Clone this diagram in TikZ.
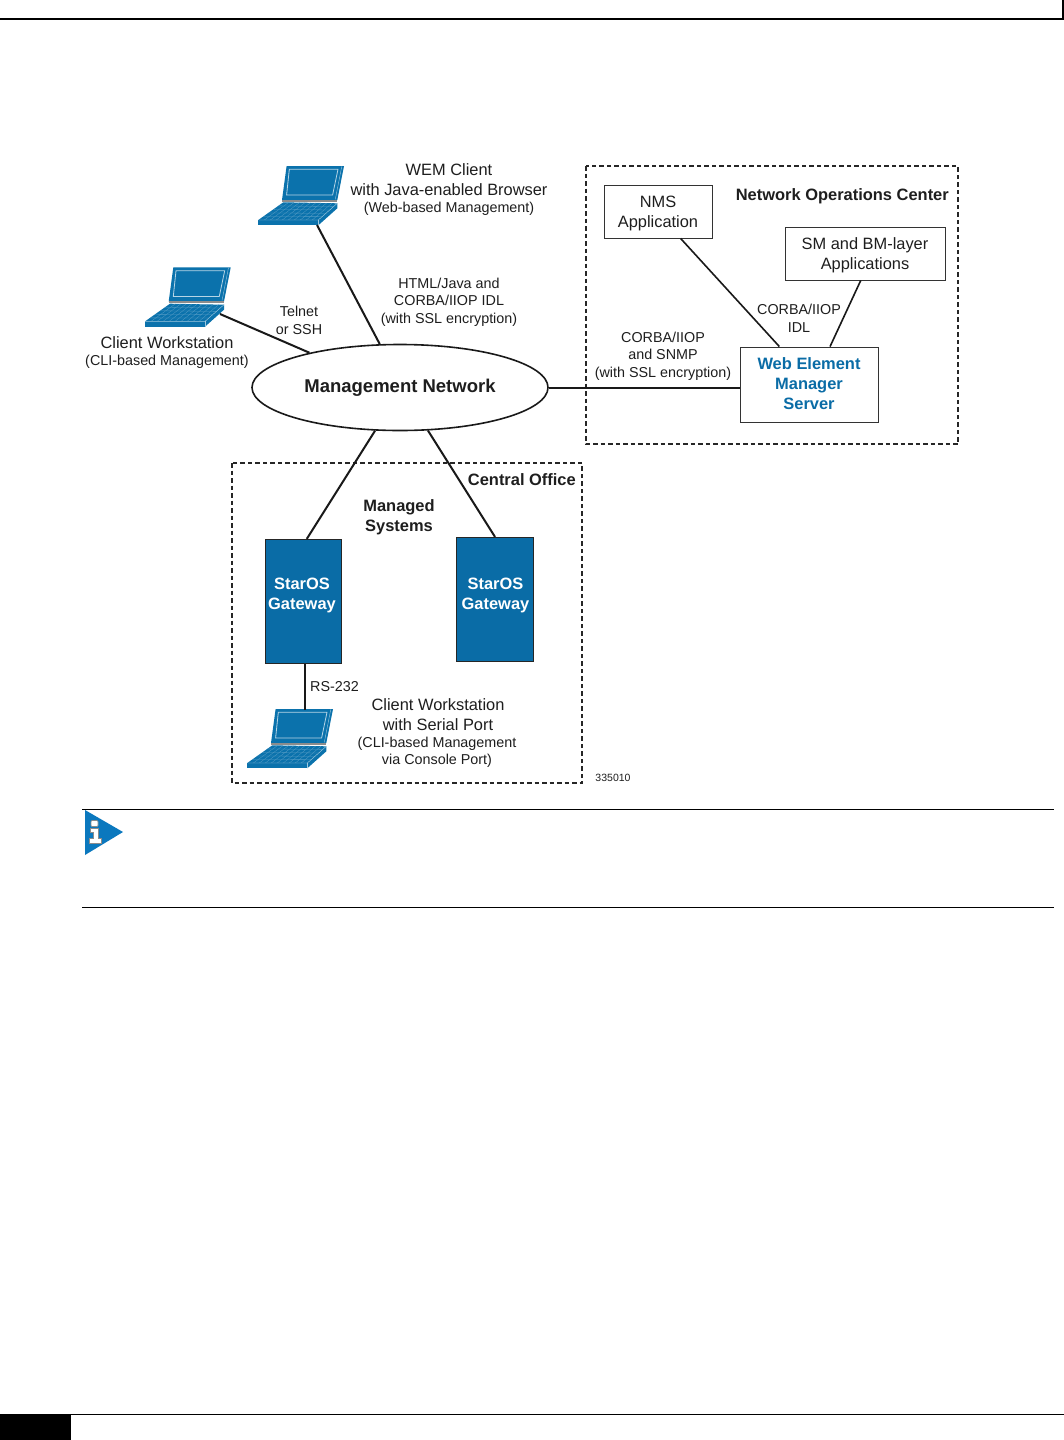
\documentclass[tikz,border=0pt]{standalone}
\usepackage{fontspec}
\setmainfont{Liberation Sans}
\usetikzlibrary{shapes.geometric,calc}
\definecolor{ciscoblue}{HTML}{0A6CA6}
\definecolor{lapblue}{HTML}{0B72AC}
\definecolor{infoblue}{HTML}{0B78BE}
\definecolor{inkc}{HTML}{1E1E1E}
\newcommand{\fs}[1]{\fontsize{#1}{#1}\selectfont}
\tikzset{
  x=1pt,y=-1pt,
  lbl/.style={text=inkc,align=center,inner sep=0pt,font=\fs{16.4}\linespread{1.22}\selectfont},
  lblb/.style={lbl,font=\fs{16.45}\bfseries\linespread{1.22}\selectfont},
  lbls/.style={lbl,font=\fs{14.35}\linespread{1.22}\selectfont},
  plainbox/.style={draw=black!80,line width=.9pt,fill=white,inner sep=0pt},
  gate/.style={draw=black!85,line width=.7pt,fill=ciscoblue,inner sep=0pt,minimum width=76.5pt,minimum height=124.5pt},
  link/.style={draw=black!90,line width=2pt},
  thinlink/.style={link,line width=1.6pt},
  zone/.style={draw=black!85,line width=1.2pt,dash pattern=on 4.5pt off 3pt},
  rule/.style={draw=black,line width=1.1pt},
  laptop/.pic={
    \fill[lapblue] (28.3,-59.3)--(85.7,-59.3)--(79,-25.3)--(23.7,-25.3)--cycle;
    \draw[white!70!lapblue,line width=.8pt] (31,-56)--(79.7,-56)--(74.3,-30.3)--(28.3,-30.3)--cycle;
    \draw[white!60!lapblue,line width=.4pt] (83.5,-59)--(77,-26);
    \fill[black!45] (23.7,-25.3)--(79,-25.3)--(79,-23.5)--(23.7,-23.5)--cycle;
    \fill[lapblue] (25,-23)--(79,-22)--(60,-5.3)--(0,-5.3)--cycle;
    \foreach \t in {.2,.4,.6,.8}{
      \draw[white!30!lapblue,line width=.3pt] ($(25,-23)!\t!(0,-5.3)$)--($(79,-22)!\t!(60,-5.3)$);}
    \foreach \t in {.1,.2,...,.95}{
      \draw[white!30!lapblue,line width=.3pt] ($(25,-23)!\t!(79,-22)$)--($(0,-5.3)!\t!(60,-5.3)$);}
    \fill[lapblue] (0,-5.3)--(60,-5.3)--(60,0)--(0,0)--cycle;
    \fill[lapblue] (60,-5.3)--(79,-22)--(79,-17)--(60,0)--cycle;
    \draw[white!60!lapblue,line width=.4pt] (60,-5.3)--(60,0);
    \draw[white!60!lapblue,line width=.4pt] (0,-5.3)--(60,-5.3)--(79,-22);
  }
}
\begin{document}
\begin{tikzpicture}
\useasboundingbox (0,0) rectangle (1064,1440);
\fill[white] (0,0) rectangle (1064,1440);
% page furniture
\draw[black,line width=2.2pt] (0,19)--(1063,19)--(1063,0);
\fill[black] (0,1414) rectangle (71,1440);
\draw[black,line width=1.2pt] (71,1414.5)--(1064,1414.5);
\draw[rule] (82,809.5)--(1054,809.5);
\draw[rule] (82,907.5)--(1054,907.5);
\fill[infoblue] (85,810)--(123,832)--(85,855)--cycle;
\filldraw[fill=white,draw=black!45,line width=.6pt,rounded corners=1pt] (91,820.5) rectangle (98,826.5);
\filldraw[fill=white,draw=black!45,line width=.6pt] (90.5,828.5)--(98,828.5)--(98,838.5)--(101.5,838.5)--(101.5,843)--(89.5,843)--(89.5,838.5)--(93,838.5)--(93,832)--(90.5,832)--cycle;
% zones
\draw[zone] (586,166) rectangle (958,444);
\draw[zone] (232,463) rectangle (582,783);
% network
\node[draw=black!90,line width=1.6pt,ellipse,fill=white,minimum width=296pt,minimum height=86pt,inner sep=0pt,font=\fs{18.5}\bfseries,text=inkc] (mgmt) at (400,387.5) {Management Network};
% laptops
\pic at (258.3,225.3) {laptop};
\coordinate (lapweb) at (317,225);
\pic at (145,326.7) {laptop};
\coordinate (lapcli) at (220,314);
\pic at (247.3,768.3) {laptop};
\coordinate (lapser) at (304.5,710);
% boxes
\node[plainbox,minimum width=108pt,minimum height=53pt] (nms) at (658,211.5) {};
\node[plainbox,minimum width=160pt,minimum height=53pt] (sm) at (865,253.5) {};
\node[plainbox,minimum width=138pt,minimum height=75pt] (wem) at (809,384.5) {};
\node[gate] (gwa) at (303.5,601.5) {};
\node[gate] (gwb) at (495,599.5) {};
% connectors
\draw[link] (lapweb)--(mgmt.115);
\draw[link] (lapcli)--(mgmt.159);
\draw[link] (mgmt.0.6)--(mgmt.0.6 -| wem.west);
\draw[link] (mgmt.240)--(gwa.87.7);
\draw[link] (mgmt.303)--(gwb.north);
\draw[link] (gwa.south -| lapser)--(lapser);
\draw[thinlink] (nms.-50.3)--(wem.128.7);
\draw[thinlink] (sm.261.4)--(wem.61.9);
% labels in boxes
\node[lbl] (tnms) at (658,213.5) {NMS\\Application};
\node[lbl] (tsm) at (865,255) {SM and BM-layer\\Applications};
\node[lblb,text=ciscoblue] (twem) at (809,384) {Web Element\\Manager\\Server};
\node[lblb,text=white] (tgwa) at (302,595.5) {StarOS\\Gateway};
\node[lblb,text=white] (tgwb) at (495.5,595.5) {StarOS\\Gateway};
% labels
\node[lbl] (t1) at (449,179.5) {WEM Client\\with Java-enabled Browser};
\node[lbls] (t2) at (449,209) {(Web-based Management)};
\node[lbls] (t3) at (449,302) {HTML/Java and\\CORBA/IIOP IDL\\(with SSL encryption)};
\node[lbls] (t4) at (299,320.5) {Telnet\\or SSH};
\node[lbl] (t5) at (167,342.5) {Client Workstation};
\node[lbls] (t6) at (167,362) {(CLI-based Management)};
\node[lblb,anchor=east] (t7) at (949,196) {Network Operations Center};
\node[lbls] (t8) at (799,318.5) {CORBA/IIOP\\IDL};
\node[lbls] (t9) at (663,356) {CORBA/IIOP\\and SNMP\\(with SSL encryption)};
\node[lblb,anchor=east] (t10) at (576,479.5) {Central Office};
\node[lblb] (t11) at (399,517) {Managed\\Systems};
\node[lbls] (t12) at (334.5,687) {RS-232};
\node[lbl] (t13) at (438,714.5) {Client Workstation\\with Serial Port};
\node[lbls] (t14) at (437,752.5) {(CLI-based Management\\via Console Port)};
\node[lbl,font=\fs{10.5}] (t15) at (613,778) {335010};
\end{tikzpicture}
\end{document}
